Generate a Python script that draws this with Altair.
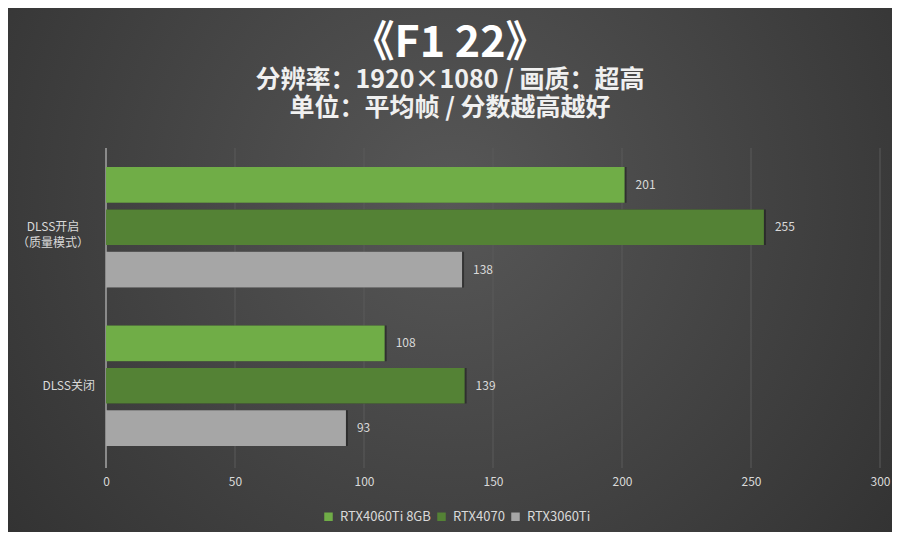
import altair as alt
import pandas as pd

categories = ["DLSS开启|（质量模式）", "DLSS关闭"]
series = ["RTX4060Ti 8GB", "RTX4070", "RTX3060Ti"]
values = {
    "RTX4060Ti 8GB": [201, 108],
    "RTX4070": [255, 139],
    "RTX3060Ti": [138, 93],
}
colors = ["#70ad47", "#548235", "#a6a6a6"]
grid_ticks = [50, 100, 150, 200, 250, 300]
title_text = "《F1 22》"
subtitle_lines = ["分辨率：1920×1080 / 画质：超高", "单位：平均帧 / 分数越高越好"]

rows = []
for s in series:
    for c, v in zip(categories, values[s]):
        rows.append({"cat": c, "gpu": s, "fps": v})
df = pd.DataFrame(rows)
cat_df = pd.DataFrame({"cat": categories})

FONT = "Noto Sans CJK SC"
W, H = 774, 317
PAD = {"left": 98, "top": 140, "right": 12, "bottom": 67}

xscale = alt.Scale(domain=[0, 300], nice=False)
yscale = alt.Scale(domain=categories, paddingInner=0.24, paddingOuter=0.12)

bg = alt.Chart(pd.DataFrame({"a": [0]})).mark_rect(
    fill={
        "gradient": "radial",
        "stops": [{"offset": 0, "color": "#575757"}, {"offset": 1, "color": "#2a2a2a"}],
        "x1": 0.5, "y1": 0.42, "r1": 0,
        "x2": 0.5, "y2": 0.42, "r2": 0.78,
    }
).encode(
    x=alt.value(-PAD["left"]), x2=alt.value(W + PAD["right"]),
    y=alt.value(-PAD["top"]), y2=alt.value(H + PAD["bottom"]),
)

grid = alt.Chart(pd.DataFrame({"v": grid_ticks})).mark_rule(
    color="#5a5a5a", strokeWidth=1
).encode(x=alt.X("v:Q", scale=xscale), y=alt.value(0), y2=alt.value(H + 3))

zero = alt.Chart(pd.DataFrame({"v": [0]})).mark_rule(
    color="#8a8a8a", strokeWidth=2
).encode(x=alt.X("v:Q", scale=xscale), y=alt.value(0), y2=alt.value(H + 3))

base = alt.Chart(df).encode(
    y=alt.Y("cat:N", scale=yscale, sort=categories, axis=None),
    yOffset=alt.YOffset("gpu:N", sort=series, scale=alt.Scale(domain=series, paddingInner=0.16, paddingOuter=0)),
)

shadow = base.mark_bar(color="#1a1a1a", opacity=0.55, xOffset=2, yOffset=2).encode(
    x=alt.X("fps:Q", scale=xscale),
)

bars = base.mark_bar().encode(
    x=alt.X(
        "fps:Q", scale=xscale,
        axis=alt.Axis(
            title=None, values=[0] + grid_ticks, grid=False, domain=False, ticks=False,
            labelPadding=11, labelColor="#d9d9d9", labelFontSize=12, labelFont=FONT,
            zindex=1, labelFlush=False,
        ),
    ),
    color=alt.Color(
        "gpu:N", sort=series, scale=alt.Scale(domain=series, range=colors),
        legend=alt.Legend(
            title=None, orient="none", legendX=216, legendY=362, direction="horizontal",
            symbolType="square", symbolSize=72, symbolStrokeWidth=0,
            labelColor="#d9d9d9", labelFontSize=13, labelFont=FONT,
            columnPadding=4, labelOffset=5,
        ),
    ),
)

labels = base.mark_text(
    align="left", baseline="middle", dx=11, color="#d9d9d9", fontSize=12, font=FONT
).encode(x=alt.X("fps:Q", scale=xscale), text=alt.Text("fps:Q"))

cat_multi = alt.Chart(cat_df).transform_filter(
    alt.expr.indexof(alt.datum.cat, "|") >= 0
).mark_text(
    align="center", baseline="middle", lineBreak="|", lineHeight=16,
    color="#d9d9d9", fontSize=12, font=FONT,
).encode(
    y=alt.Y("cat:N", scale=yscale, sort=categories, axis=None),
    x=alt.value(-53), text="cat:N",
)

cat_single = alt.Chart(cat_df).transform_filter(
    alt.expr.indexof(alt.datum.cat, "|") < 0
).mark_text(
    align="right", baseline="middle", color="#d9d9d9", fontSize=12, font=FONT,
).encode(
    y=alt.Y("cat:N", scale=yscale, sort=categories, axis=None),
    x=alt.value(-11), text="cat:N",
)

chart = alt.layer(bg, grid, zero, shadow, bars, labels, cat_multi, cat_single).properties(
    width=W, height=H,
    autosize=alt.AutoSizeParams(type="none"),
    padding=PAD,
    background="#3a3a3a",
    title=alt.TitleParams(
        text=title_text, subtitle=subtitle_lines,
        font=FONT, fontSize=43, fontWeight="bold", color="#ffffff",
        subtitleFont=FONT, subtitleFontSize=25, subtitleFontWeight="bold",
        subtitleColor="#f0f0f0", subtitleLineHeight=28, subtitlePadding=2,
        anchor="middle", frame="bounds", offset=0, dy=113,
    ),
).configure_view(stroke=None)

chart.save("out.html", embed_options={"renderer": "svg", "actions": False})
